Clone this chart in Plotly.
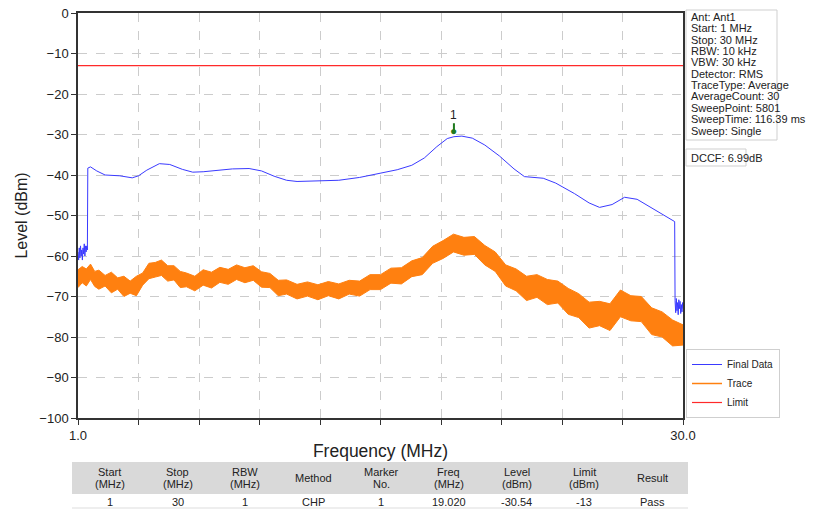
import plotly.graph_objects as go

# The page body adds an 8 px margin, so the figure is drawn at (8, 8) in the 820x512 window.
OFF = 8
W, H = 820 - OFF, 512 - OFF
FONT = "Liberation Sans, Arial, sans-serif"
NARROW = "Liberation Sans Narrow, Arial Narrow, Liberation Sans, Arial, sans-serif"

# ---------------- data ----------------
fd_freq = [1.0, 1.03, 1.06, 1.09, 1.12, 1.15, 1.18, 1.21, 1.24, 1.27, 1.30, 1.33, 1.36, 1.39, 1.42, 1.45,
           1.47, 1.6, 1.9, 2.3, 3.0, 3.6, 3.9, 4.3, 4.9, 5.4, 6.0, 6.5, 7.0, 7.6, 8.4, 9.2, 9.8, 10.4,
           11.0, 11.5, 12.5, 13.5, 14.5, 15.5, 16.3, 17.0, 17.6, 18.2, 18.7, 19.02, 19.4, 19.9, 20.5,
           21.2, 21.9, 22.4, 23.3, 23.9, 24.8, 25.5, 26.0, 26.6, 27.2, 27.8, 28.4, 29.1, 29.6,
           29.62, 29.65, 29.68, 29.71, 29.74, 29.77, 29.80, 29.83, 29.86, 29.89, 29.92, 29.95, 29.98, 30.0]
fd_level = [-59, -61, -58, -60.5, -57.5, -60, -58.5, -61, -58, -59.5, -57, -60, -57.5, -59, -57.5, -58.5,
            -38.3, -38.0, -39.0, -40.0, -40.2, -40.7, -40.2, -38.8, -37.2, -37.4, -38.6, -39.3, -39.2,
            -38.9, -38.5, -38.4, -39.0, -40.3, -41.3, -41.6, -41.5, -41.3, -40.6, -39.6, -38.7, -37.6,
            -35.8, -33.0, -31.0, -30.54, -30.4, -30.9, -32.6, -35.3, -38.5, -40.4, -40.8, -42.0, -44.6,
            -46.9, -48.0, -47.3, -45.5, -46.0, -47.8, -49.8, -51.5,
            -71, -74, -70.5, -73.5, -71.5, -74.5, -70.8, -73, -71.2, -74.2, -72, -73.8, -71.5, -73]

tr_freq = [1.0, 1.2, 1.4, 1.6, 1.8, 2.0, 2.3, 2.6, 2.9, 3.2, 3.5, 3.8, 4.1, 4.4, 4.7, 5.0, 5.3, 5.6,
           5.9, 6.2, 6.6, 7.0, 7.4, 7.8, 8.2, 8.6, 9.0, 9.4, 9.8, 10.2, 10.6, 11.0, 11.5, 12.0, 12.5,
           13.0, 13.5, 14.0, 14.5, 15.0, 15.5, 16.0, 16.5, 17.0, 17.5, 18.0, 18.5, 19.0, 19.5, 20.0,
           20.5, 21.0, 21.5, 22.0, 22.5, 23.0, 23.5, 24.0, 24.5, 25.0, 25.5, 26.0, 26.5, 27.0, 27.5,
           28.0, 28.5, 29.0, 29.5, 30.0]
tr_upper = [-63.4, -62.6, -63.2, -62.0, -63.8, -63.5, -64.8, -64.0, -65.4, -65.0, -66.2, -65.0, -64.2,
            -61.8, -61.6, -61.0, -62.4, -62.4, -63.8, -64.2, -65.0, -63.4, -64.0, -62.8, -63.3, -62.2,
            -62.9, -62.4, -63.9, -64.3, -66.0, -65.9, -67.0, -66.4, -67.1, -66.3, -66.9, -66.0, -66.2,
            -64.6, -64.6, -63.0, -62.9, -61.2, -60.4, -57.6, -56.2, -54.6, -55.4, -55.2, -57.4, -59.0,
            -62.2, -63.2, -65.0, -64.6, -65.8, -66.2, -68.0, -69.3, -71.4, -71.2, -71.8, -68.4, -69.8,
            -70.0, -72.8, -73.8, -75.8, -77.0]
tr_lower = [-67.8, -66.6, -67.4, -65.8, -67.5, -68.2, -67.4, -69.1, -68.2, -70.0, -69.2, -69.8, -67.2,
            -65.6, -65.2, -64.8, -66.2, -65.9, -67.8, -67.6, -68.6, -67.2, -67.9, -66.5, -67.0, -65.8,
            -66.6, -66.0, -67.7, -67.8, -69.8, -69.4, -70.6, -69.9, -70.8, -69.8, -70.6, -69.4, -69.9,
            -68.3, -68.3, -66.7, -66.9, -65.1, -64.6, -61.8, -60.6, -59.0, -59.8, -59.6, -62.2, -63.8,
            -67.4, -68.6, -71.0, -70.2, -72.0, -71.6, -74.4, -75.2, -77.8, -77.2, -78.4, -75.0, -76.0,
            -76.2, -79.4, -80.0, -82.2, -82.0]

limit_freq = [1.0, 30.0]
limit_level = [-13, -13]

marker_freq = 19.02
marker_level = -30.54
marker_label = "1"

x_tick_vals = [1.0, 3.9, 6.8, 9.7, 12.6, 15.5, 18.4, 21.3, 24.2, 27.1, 30.0]
x_tick_text = ["1.0", "", "", "", "", "", "", "", "", "", "30.0"]
y_tick_vals = [0, -10, -20, -30, -40, -50, -60, -70, -80, -90, -100]

info_lines = ["Ant: Ant1", "Start: 1 MHz", "Stop: 30 MHz", "RBW: 10 kHz", "VBW: 30 kHz",
              "Detector: RMS", "TraceType: Average", "AverageCount: 30", "SweepPoint: 5801",
              "SweepTime: 116.39 ms", "Sweep: Single"]
dccf_text = "DCCF: 6.99dB"

table_header = ["Start<br>(MHz)", "Stop<br>(MHz)", "RBW<br>(MHz)", "Method", "Marker<br>No.",
                "Freq<br>(MHz)", "Level<br>(dBm)", "Limit<br>(dBm)", "Result"]
table_row = ["1", "30", "1", "CHP", "1", "19.020", "-30.54", "-13", "Pass"]

# ---------------- figure ----------------
PL, PR, PT, PB = 78, 683, 13, 418   # plot area, window pixels


def px(x):
    return (x - OFF) / W


def py(y):
    return 1 - (y - OFF) / H


BLUE = "#3a3aff"
ORANGE = "#ff8010"
RED = "#ff2a2a"

fig = go.Figure()

fig.add_trace(go.Scatter(x=fd_freq, y=fd_level, mode="lines", name="Final Data",
                         line=dict(color=BLUE, width=1)))
fig.add_trace(go.Scatter(x=tr_freq, y=tr_lower, mode="lines", name="Trace", legendgroup="trace",
                         line=dict(color=ORANGE, width=1), showlegend=False))
fig.add_trace(go.Scatter(x=tr_freq, y=tr_upper, mode="lines", fill="tonexty", legendgroup="trace",
                         fillcolor=ORANGE, line=dict(color=ORANGE, width=1), showlegend=False))
fig.add_trace(go.Scatter(x=[None], y=[None], mode="lines", name="Trace", legendgroup="trace",
                         line=dict(color=ORANGE, width=1.5)))
fig.add_trace(go.Scatter(x=limit_freq, y=limit_level, mode="lines", name="Limit",
                         line=dict(color=RED, width=1.2)))

annotations = []
shapes = []

# marker 1
annotations.append(dict(x=marker_freq, y=marker_level, xref="x", yref="y", text="●",
                        showarrow=False, yshift=6, font=dict(size=12, color="#1f7a1f")))
annotations.append(dict(x=marker_freq, y=marker_level, xref="x", yref="y", text=marker_label,
                        showarrow=True, arrowhead=0, arrowwidth=2, arrowcolor="#1f7a1f",
                        ax=0, ay=-22, standoff=6, font=dict(family=FONT, size=12, color="#222")))

# info boxes
for i, line in enumerate(info_lines):
    annotations.append(dict(x=px(689), y=py(17 + 11.35 * i), xref="paper", yref="paper",
                            text=line, showarrow=False, xanchor="left", yanchor="middle",
                            font=dict(family=NARROW, size=11, color="#222")))
annotations.append(dict(x=px(689), y=py(157.5), xref="paper", yref="paper", text=dccf_text,
                        showarrow=False, xanchor="left", yanchor="middle",
                        font=dict(family=NARROW, size=11, color="#222")))
shapes.append(dict(type="rect", xref="paper", yref="paper", x0=px(686), x1=px(777),
                   y0=py(140), y1=py(10), line=dict(color="#cfcfcf", width=1)))
shapes.append(dict(type="rect", xref="paper", yref="paper", x0=px(686), x1=px(746),
                   y0=py(166), y1=py(149), line=dict(color="#cfcfcf", width=1)))

# result table below the chart
TX0, TX1 = 76, 686
HY0, HY1, RY1 = 462, 494, 508
shapes.append(dict(type="rect", xref="paper", yref="paper", x0=px(TX0 - 4), x1=px(TX1 + 2),
                   y0=py(HY1), y1=py(HY0), line=dict(width=0), fillcolor="#d9d9d9", layer="below"))
shapes.append(dict(type="line", xref="paper", yref="paper", x0=px(TX0 - 4), x1=px(TX1 + 2),
                   y0=py(RY1), y1=py(RY1), line=dict(color="#dddddd", width=1)))
ncol = len(table_header)
colw = (TX1 - TX0) / ncol
for i, (head, val) in enumerate(zip(table_header, table_row)):
    cx = px(TX0 + colw * (i + 0.5))
    parts = head.split("<br>")
    if len(parts) == 1:
        ys = [(HY0 + HY1) / 2]
    else:
        ys = [(HY0 + HY1) / 2 - 6, (HY0 + HY1) / 2 + 6]
    for part, yy in zip(parts, ys):
        annotations.append(dict(x=cx, y=py(yy), xref="paper", yref="paper", text=part,
                                showarrow=False, xanchor="center", yanchor="middle",
                                font=dict(family=FONT, size=11, color="#222")))
    annotations.append(dict(x=cx, y=py((HY1 + RY1) / 2 + 0.5), xref="paper", yref="paper", text=val,
                            showarrow=False, xanchor="center", yanchor="middle",
                            font=dict(family=FONT, size=11, color="#222")))

axis_common = dict(showline=True, linecolor="#333", linewidth=1.5, mirror=True,
                   ticks="outside", ticklen=5, tickcolor="#333", automargin=False,
                   ticklabeloverflow="allow",
                   showgrid=True, gridcolor="#cccccc", griddash="dash", gridwidth=1,
                   zeroline=False, tickfont=dict(family=FONT, size=13, color="#222"))

fig.update_layout(
    width=W, height=H,
    margin=dict(l=0, r=0, t=0, b=0, autoexpand=False),
    paper_bgcolor="white", plot_bgcolor="white",
    font=dict(family=FONT, color="#222"),
    xaxis=dict(domain=[px(PL), px(PR)], range=[1, 30], tickmode="array",
               tickvals=x_tick_vals, ticktext=x_tick_text,
               title=dict(text="Frequency (MHz)", font=dict(family=FONT, size=17.5), standoff=2),
               **axis_common),
    yaxis=dict(domain=[py(PB), py(PT)], range=[-100, 0], tickmode="array",
               tickvals=y_tick_vals,
               title=dict(text="Level (dBm)", font=dict(family=FONT, size=16), standoff=8),
               **axis_common),
    legend=dict(x=px(686), y=py(418), xanchor="left", yanchor="bottom",
                bordercolor="#cfcfcf", borderwidth=1, bgcolor="white", traceorder="normal",
                font=dict(family=FONT, size=10, color="#222"), itemwidth=30,
                tracegroupgap=0),
    annotations=annotations,
    shapes=shapes,
    showlegend=True,
)

fig.write_html("out.html")
